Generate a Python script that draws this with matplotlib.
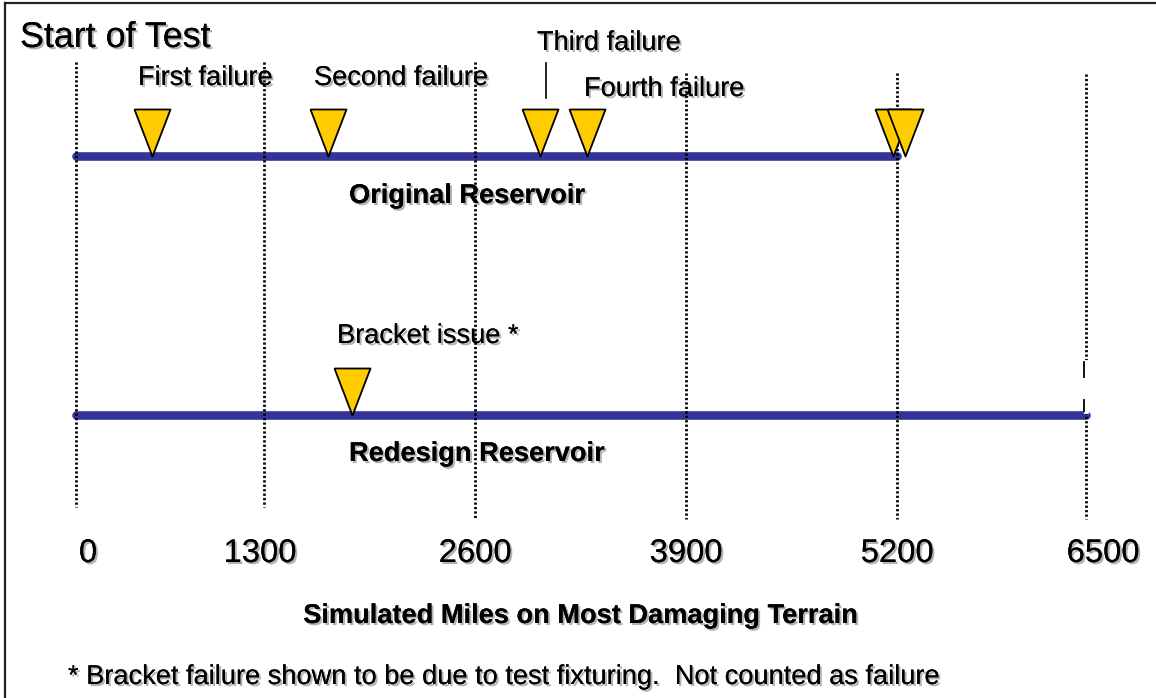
import matplotlib.pyplot as plt
import matplotlib.patheffects as pe
from matplotlib.lines import Line2D
import numpy as np

plt.rcParams['font.family'] = ['Liberation Sans', 'DejaVu Sans']

# axis marks (simulated miles)
mile_ticks = [0, 1300, 2600, 3900, 5200, 6500]
tick_labels = ['0', '1300', '2600', '3900', '5200', '6500']

# how far each reservoir ran
original_end = 5200
redesign_end = 6500

# failure mileages
original_failures = [525, 1695, 3000, 3290, 5175, 5255]
redesign_failures = [1840]

W, H = 1156, 698

# the slide spaces the marks unevenly, so map miles -> pixels piecewise
tick_px = [76, 264, 475, 686, 897, 1086]
lo = -tick_px[0] / (tick_px[1] - tick_px[0]) * 1300
hi = 6500 + (W - tick_px[-1]) / (tick_px[-1] - tick_px[-2]) * 1300
mile_knots = [lo] + mile_ticks + [hi]
px_knots = [0] + tick_px + [W]


def fwd(m):
    return np.interp(m, mile_knots, px_knots)


def inv(p):
    return np.interp(p, px_knots, mile_knots)


fig = plt.figure(figsize=(W / 100, H / 100), dpi=100)
ax = fig.add_axes([0, 0, 1, 1])
ax.set_xscale('function', functions=(fwd, inv))
ax.set_xlim(lo, hi)
ax.set_ylim(H, 0)
ax.axis('off')

shadow = [pe.withSimplePatchShadow(offset=(1.5, -1.5), shadow_rgbFace='#808080', alpha=0.6), pe.Normal()]


def label(px, py, s, size=19.6, weight='normal', ha='left'):
    ax.text(inv(px), py, s, fontsize=size, fontweight=weight, ha=ha, va='baseline',
            path_effects=shadow, zorder=1)


# reservoir bars
blue = '#333399'
ax.plot([0, original_end], [156, 156], color=blue, lw=6.2, solid_capstyle='round', zorder=2)
ax.plot([0, redesign_end], [415, 415], color=blue, lw=6.2, solid_capstyle='round', zorder=2)

# dotted mile lines
grid_top = [62, 62, 62, 73, 73, 74]
grid_bot = [507, 507, 519, 519, 519, 519]
for m, t, b in zip(mile_ticks, grid_top, grid_bot):
    ax.plot([m, m], [t, b], color='black', lw=2.0, ls=(0, (0.8, 0.8)), zorder=3)

# leftover box edge on the 6500 line
ax.plot([6500, 6500], [362, 411], color='white', lw=3.5, zorder=3.1)
ax.plot([inv(1083.5)] * 2, [362, 377], color='black', lw=1.3, zorder=3.2)
ax.plot([inv(1083.5)] * 2, [400, 411], color='black', lw=1.3, zorder=3.2)

# failure triangles, tip sitting on the bar
tri = [(-18, 47), (18, 47), (0, 0), (-18, 47)]
ms = 47 * 0.72 * 2
for m in original_failures:
    ax.plot([m], [156], marker=tri, ms=ms, mfc='#FFCC00', mec='black', mew=1.3, ls='none', zorder=4)
for m in redesign_failures:
    ax.plot([m], [415], marker=tri, ms=ms, mfc='#FFCC00', mec='black', mew=1.3, ls='none', zorder=4)

# leader for third failure
ax.plot([inv(546)] * 2, [63, 98], color='black', lw=1.2, zorder=3)

# texts
label(20, 47, 'Start of Test', size=25.8)
label(138, 85, 'First failure')
label(314, 85, 'Second failure')
label(537, 50, 'Third failure')
label(584, 96, 'Fourth failure')
label(349, 203, 'Original Reservoir', weight='bold')
label(337, 343, 'Bracket issue *')
label(349, 461, 'Redesign Reservoir', weight='bold')

tick_shift = [12, -4, 0, 0, 0, 17]
for m, s, d in zip(mile_ticks, tick_labels, tick_shift):
    ax.text(inv(fwd(m) + d), 562, s, fontsize=23.6, ha='center', va='baseline',
            path_effects=shadow, zorder=1)

label(581, 623, 'Simulated Miles on Most Damaging Terrain', weight='bold', ha='center')
label(68, 684, '* Bracket failure shown to be due to test fixturing.  Not counted as failure')

# slide frame (only left/top edges fall inside the crop)
fig.add_artist(Line2D([4.5 / W, 4.5 / W], [0, 1 - 3 / H], color='#222222', lw=1.6))
fig.add_artist(Line2D([4.5 / W, 1], [1 - 3 / H, 1 - 3 / H], color='#222222', lw=1.6))

fig.savefig('out.png', dpi=100)
